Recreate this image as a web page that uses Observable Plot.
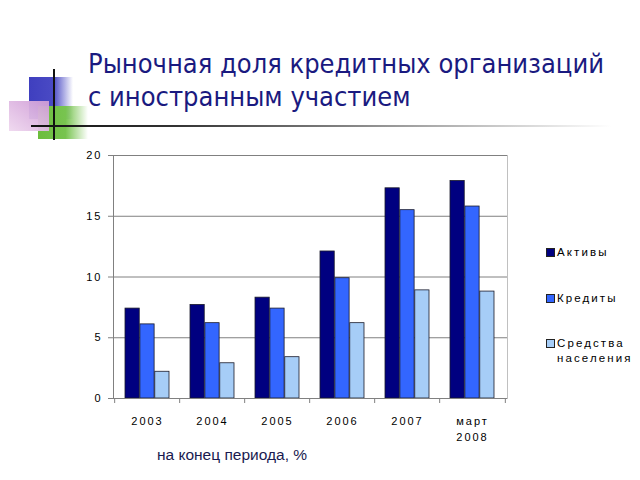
<!DOCTYPE html>
<html><head><meta charset="utf-8">
<script src="https://cdn.jsdelivr.net/npm/d3@7"></script>
<script src="https://cdn.jsdelivr.net/npm/@observablehq/plot@0.6"></script>
<style>
body{margin:0;width:640px;height:480px;position:relative;overflow:hidden;background:#fff;font-family:"Liberation Sans",Arial,sans-serif;}
.deco{position:absolute;}
#title{position:absolute;left:88px;top:47px;font-family:"DejaVu Sans Condensed","DejaVu Sans",sans-serif;font-size:27px;line-height:33px;color:#1a1a80;white-space:nowrap;}
#chart{position:absolute;left:0;top:140px;}
.lg{position:absolute;font-size:11.5px;letter-spacing:2.1px;color:#000;line-height:15px;}
.sw{position:absolute;width:7px;height:7px;border:1px solid #222;}
#caption{position:absolute;left:157px;top:446px;font-size:15.5px;color:#1a1a50;}
</style></head>
<body>
<div class="deco" style="left:29px;top:77px;width:44px;height:42px;background:linear-gradient(to right,#3f3fbf 0%,#4a4ac4 55%,rgba(255,255,255,0) 100%);"></div>
<div class="deco" style="left:38px;top:106px;width:50px;height:33px;background:linear-gradient(to right,#6cbd3c 0%,#78c450 55%,rgba(255,255,255,0) 100%);"></div>
<div class="deco" style="left:9px;top:101px;width:40px;height:30px;background:linear-gradient(to top right,#efd8ef 0%,#cf9bd6 100%);opacity:0.95;"></div>
<div class="deco" style="left:53px;top:69px;width:2px;height:73px;background:#111;"></div>
<div class="deco" style="left:31px;top:125px;width:580px;height:2px;background:linear-gradient(to right,#111 0%,#333 25%,#bbb 75%,rgba(255,255,255,0) 100%);"></div>
<div id="title">Рыночная доля кредитных организаций<br>с иностранным участием</div>
<div id="chart"></div>
<div id="legend"></div>
<div id="caption">на конец периода, %</div>
<script>
const categories = ["2003", "2004", "2005", "2006", "2007", "март 2008"];
const tickLabels = ["2003", "2004", "2005", "2006", "2007", "март\n2008"];
const seriesNames = ["Активы", "Кредиты", "Средства\nнаселения"];
const seriesColors = ["#000080", "#3366ff", "#a6cdf7"];
const aktivy = [7.4, 7.7, 8.3, 12.1, 17.3, 17.9];
const kredity = [6.1, 6.2, 7.4, 9.9, 15.5, 15.8];
const sredstva = [2.2, 2.9, 3.4, 6.2, 8.9, 8.8];
const yTicks = [0, 5, 10, 15, 20];

const W = 640, H = 310, ML = 113, MR = 133, MT = 15, MB = 52;
const PIN = 0.32, POUT = 0.16;
const band = d3.scaleBand().domain(categories).range([ML, W - MR]).paddingInner(PIN).paddingOuter(POUT);
const third = band.bandwidth() / 3;
const step = band.step();

const seriesValues = [aktivy, kredity, sredstva];
const bars = seriesValues.map((vals, k) =>
  Plot.barY(categories.map((c, i) => ({cat: c, value: vals[i]})), {
    x: "cat", y: "value", fill: seriesColors[k], stroke: "#1a1a2a", strokeWidth: 0.8,
    insetLeft: k * third, insetRight: (2 - k) * third
  })
);

const chart = Plot.plot({
  width: W, height: H, marginLeft: ML, marginRight: MR, marginTop: MT, marginBottom: MB,
  style: {fontFamily: "Liberation Sans, Arial, sans-serif", fontSize: "11px", letterSpacing: "2px", color: "#000", background: "#fff"},
  x: {domain: categories, paddingInner: PIN, paddingOuter: POUT, align: 0.5, axis: null},
  y: {domain: [0, 20], axis: null},
  marks: [
    Plot.frame({stroke: "#c0c0c0"}),
    Plot.ruleY([5, 10, 15, 20], {stroke: "#808080", strokeWidth: 1}),
    Plot.frame({anchor: "left", stroke: "#808080"}),
    ...bars,
    Plot.ruleY([0], {stroke: "#808080", strokeWidth: 1}),
    Plot.ruleX(categories, {x: d => d, dx: -step / 2, y1: () => 0, y2: () => 0, insetBottom: -5, stroke: "#808080"}),
    Plot.ruleX([categories[categories.length - 1]], {x: d => d, dx: step / 2, y1: () => 0, y2: () => 0, insetBottom: -5, stroke: "#808080"}),
    Plot.axisY(yTicks, {tickSize: 5, tickPadding: 6, stroke: "#808080", fill: "#000", fontSize: 11, label: null}),
    Plot.axisX(categories, {tickSize: 0, tickPadding: 15, fontSize: 11, lineHeight: 1.45, fill: "#000", label: null, tickFormat: d => tickLabels[categories.indexOf(d)]})
  ]
});
document.getElementById("chart").appendChild(chart);

const legendY = [245, 291, 336];
const lg = document.getElementById("legend");
seriesNames.forEach((name, k) => {
  const sw = document.createElement("div");
  sw.className = "sw";
  sw.style.left = "546px"; sw.style.top = (legendY[k] + 3) + "px"; sw.style.background = seriesColors[k];
  lg.appendChild(sw);
  const t = document.createElement("div");
  t.className = "lg";
  t.style.left = "557px"; t.style.top = legendY[k] + "px";
  t.innerHTML = name.replace("\n", "<br>");
  lg.appendChild(t);
});
</script>
</body></html>
